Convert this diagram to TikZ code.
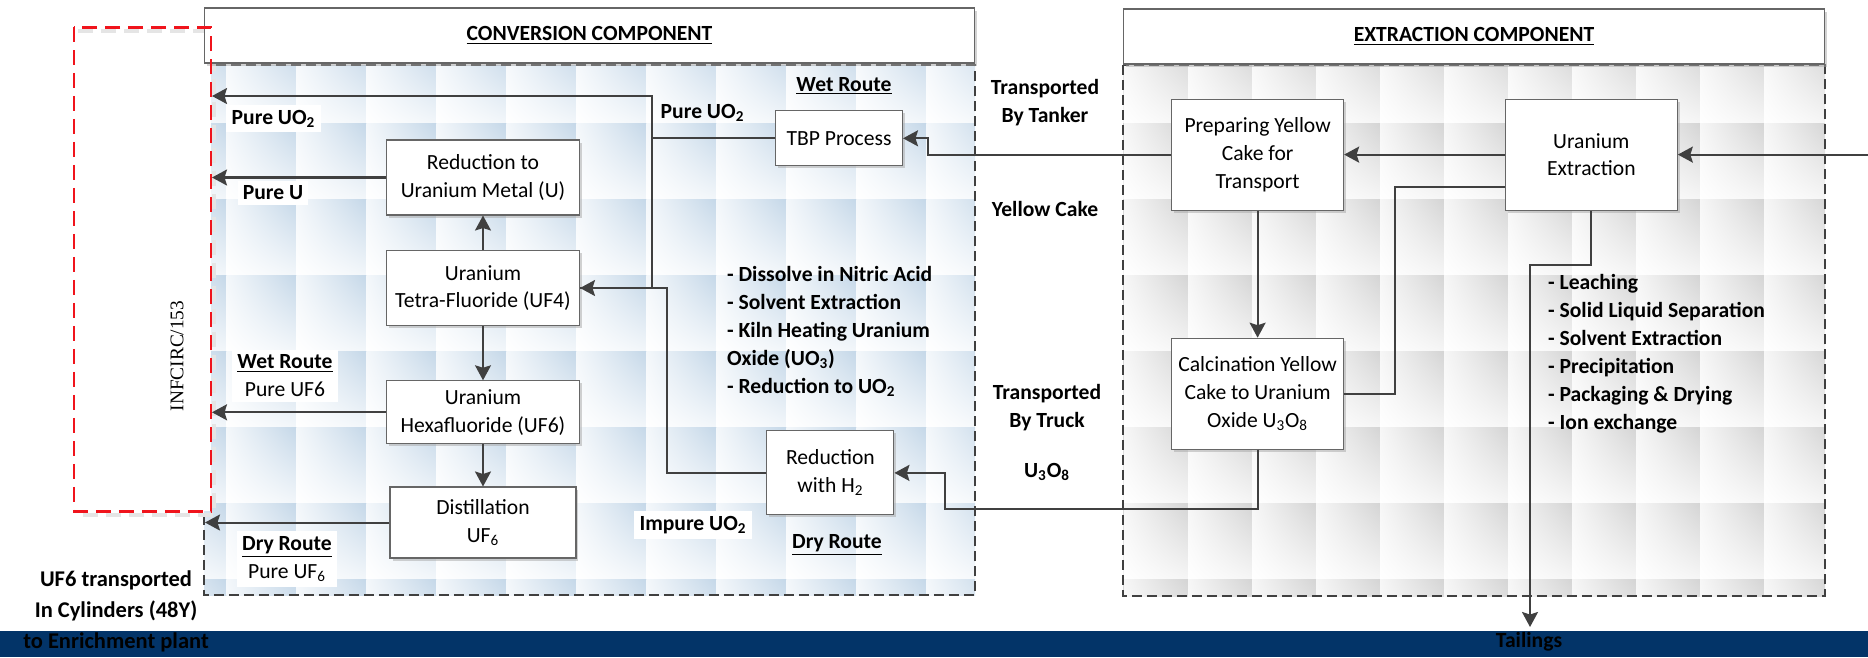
\documentclass[tikz,border=0pt]{standalone}
\usepackage{fontspec}
\setmainfont{Carlito}
\newfontfamily\infserif{Liberation Serif}
\usetikzlibrary{arrows.meta,shadows,shadings}

\definecolor{tileblue}{RGB}{196,215,232}
\definecolor{tilegray}{RGB}{212,212,212}
\definecolor{linegray}{RGB}{64,64,64}
\definecolor{bandnavy}{RGB}{3,52,104}
\definecolor{dashred}{RGB}{240,20,28}

\begin{document}
\begin{tikzpicture}[x=0.02cm, y=-0.02cm,
    every node/.style={font=\fontsize{12.3}{15.8}\selectfont},
    procbox/.style={
        draw=black!60,
        line width=0.6pt,
        fill=white,
        align=center,
        inner sep=0pt,
        drop shadow={shadow xshift=0.05cm, shadow yshift=-0.05cm, fill=black!35, opacity=0.5}
    },
    headbox/.style={
        procbox,
        font=\bfseries\fontsize{12.3}{15.8}\selectfont
    },
    lbl/.style={
        font=\bfseries\fontsize{12.3}{15.9}\selectfont,
        align=center,
        inner sep=1pt
    },
    whitelbl/.style={
        lbl,
        fill=white,
        inner sep=3pt
    },
    arr/.style={
        draw=linegray,
        line width=1.15pt,
        -{Stealth[length=0.3cm, width=0.32cm, inset=0.05cm]}
    },
    link/.style={
        draw=linegray,
        line width=1.15pt
    },
    bodyline/.style={
        draw=linegray,
        line width=1.1pt,
        dash pattern=on 0.2cm off 0.1cm
    },
    reddash/.style={
        line width=1.7pt,
        dash pattern=on 0.3cm off 0.16cm
    }
]
\useasboundingbox (0,0) rectangle (1868,657);

%%%%%%%%%%%%%%%%%%%%%%%%
% Backgrounds
%%%%%%%%%%%%%%%%%%%%%%%%

% --- Conversion tiles ---
\begin{scope}
    \clip (204,65) rectangle (975,595);
    \foreach \i in {0,...,11}{
        \foreach \j in {0,...,7}{
            \shade[upper left=tileblue!20!white, lower left=white,
                   upper right=tileblue, lower right=tileblue!22!white]
                ({156.7+70*\i},{47+76*\j}) rectangle ++(70,76);
        }
    }
\end{scope}

% --- Extraction tiles ---
\begin{scope}
    \clip (1123,65) rectangle (1825,596);
    \foreach \i in {0,...,12}{
        \foreach \j in {0,...,7}{
            \shade[upper left=tilegray!20!white, lower left=white,
                   upper right=tilegray, lower right=tilegray!22!white]
                ({1060+64*\i},{47+76*\j}) rectangle ++(64,76);
        }
    }
\end{scope}

\draw[bodyline] (204,65) rectangle (975,595);
\draw[bodyline] (1123,65) rectangle (1825,596);

% --- INFCIRC frame ---
\fill[white] (74,27) rectangle (211,511);
\draw[reddash, black!10, line width=2.6pt] (78,31) -- (214,31) -- (214,515) -- (78,515);

% --- Headers ---
\node[headbox, minimum width=15.42cm, minimum height=1.1cm] (convhead) at (589.5,35.5)
    {\underline{CONVERSION COMPONENT}};
\node[headbox, minimum width=14.04cm, minimum height=1.1cm] (extrhead) at (1474,36.5)
    {\underline{EXTRACTION COMPONENT}};

\draw[reddash, dashred] (74,27) rectangle (211,511);
\node[rotate=90, font=\infserif\fontsize{11}{13}\selectfont] (infcirc) at (177,356) {INFCIRC/153};

% --- Bottom band ---
\fill[bandnavy] (0,631) rectangle (1868,657);

%%%%%%%%%%%%%%%%%%%%%%%%
% Conversion component
%%%%%%%%%%%%%%%%%%%%%%%%

\node[procbox, minimum width=3.86cm, minimum height=1.5cm] (redU) at (483,177.5)
    {Reduction to\\Uranium Metal (U)};
\node[procbox, minimum width=3.86cm, minimum height=1.5cm] (uf4) at (483,288)
    {Uranium\\Tetra-Fluoride (UF4)};
\node[procbox, minimum width=3.86cm, minimum height=1.26cm] (uf6) at (483,412.3)
    {Uranium\\Hexafluoride (UF6)};
\node[procbox, minimum width=3.72cm, minimum height=1.42cm] (dist) at (483,522.5)
    {Distillation\\UF\textsubscript{6}};
\node[procbox, minimum width=2.54cm, minimum height=1.1cm] (tbp) at (839,138.3)
    {TBP Process};
\node[procbox, minimum width=2.54cm, minimum height=1.68cm] (redH) at (830.4,472.9)
    {Reduction\\with H\textsubscript{2}};

% --- Outlets ---
\coordinate (outUO2) at (212,96);
\coordinate (outU) at (212,177.5);
\coordinate (outUF6) at (212,412.3);
\coordinate (outDist) at (205,522.5);
\coordinate (wetjoin) at (652,138.3);

\draw[arr] (tbp.west) -- (wetjoin) |- (outUO2);
\draw[link] (wetjoin) |- (uf4.east);
\draw[arr] (redH.west) -- (667,472.9) |- (uf4.east);
\draw[arr] (redU.west) -- (outU);
\draw[arr] (uf4) -- (redU);
\draw[arr] (uf4) -- (uf6);
\draw[arr] (uf6) -- (dist);
\draw[arr] (uf6.west) -- (outUF6);
\draw[arr] (dist.west) -- (outDist);

% --- Labels ---
\node[whitelbl] (lPureUO2) at (273.5,118.5) {Pure UO\textsubscript{2}};
\node[whitelbl] (lPureU) at (273,193) {Pure U};
\node[whitelbl] (lWetUF6) at (285,376) {\underline{Wet Route}\\\mdseries Pure UF6};
\node[whitelbl] (lDryUF6) at (287,559) {\underline{Dry Route}\\\mdseries Pure UF\textsubscript{6}};
\node[lbl] (lWetTop) at (844,86) {\underline{Wet Route}};
\node[lbl] (lTbpUO2) at (702.5,113) {Pure UO\textsubscript{2}};
\node[lbl, align=left, anchor=west] (lSteps) at (725,331.5)
    {- Dissolve in Nitric Acid\\- Solvent Extraction\\- Kiln Heating Uranium\\Oxide (UO\textsubscript{3})\\- Reduction to UO\textsubscript{2}};
\node[whitelbl] (lImpure) at (693,525) {Impure UO\textsubscript{2}};
\node[lbl] (lDryTop) at (837,545) {\underline{Dry Route}};

%%%%%%%%%%%%%%%%%%%%%%%%
% Transport
%%%%%%%%%%%%%%%%%%%%%%%%

\node[lbl] (lTanker) at (1045,103) {Transported\\By Tanker};
\node[lbl] (lCake) at (1045,209) {Yellow Cake};
\node[lbl] (lTruck) at (1047,408) {Transported\\By Truck};
\node[lbl] (lU3O8) at (1047,471.7) {U\textsubscript{3}O\textsubscript{8}};

%%%%%%%%%%%%%%%%%%%%%%%%
% Extraction component
%%%%%%%%%%%%%%%%%%%%%%%%

\node[procbox, minimum width=3.44cm, minimum height=2.22cm] (prep) at (1257.6,154.6)
    {Preparing Yellow\\Cake for\\Transport};
\node[procbox, minimum width=3.44cm, minimum height=2.22cm] (uext) at (1591.3,154.6)
    {Uranium\\Extraction};
\node[procbox, minimum width=3.44cm, minimum height=2.22cm] (calc) at (1257.6,393.7)
    {Calcination Yellow\\Cake to Uranium\\Oxide U\textsubscript{3}O\textsubscript{8}};

\coordinate (inRight) at (1868,154.6);
\coordinate (tailIn) at (1530,627);

\draw[arr] (inRight) -- (uext.east);
\draw[arr] (uext.west) -- (prep.east);
\draw[arr] (prep.west) -- (928,154.6) |- (tbp.east);
\draw[arr] (prep) -- (calc);
\draw[link] ([yshift=-0.64cm]uext.west) -| (1394.6,393.7) -- (calc.east);
\draw[arr] (uext.south) |- (1530,265) -- (tailIn);
\draw[arr] (calc.south) |- (945,509) |- (redH.east);

\node[lbl, align=left, anchor=west] (lLeach) at (1546,354)
    {- Leaching\\- Solid Liquid Separation\\- Solvent Extraction\\- Precipitation\\- Packaging \& Drying\\- Ion exchange};

% --- Band texts ---
\node[lbl, font=\bfseries\fontsize{12.8}{17.6}\selectfont] (lCyl) at (116,611)
    {UF6 transported\\In Cylinders (48Y)\\to Enrichment plant};
\node[lbl] (lTail) at (1529,642) {Tailings};

\end{tikzpicture}
\end{document}
